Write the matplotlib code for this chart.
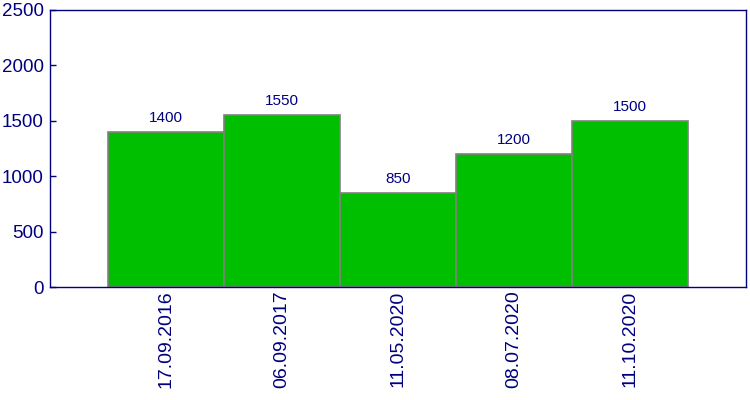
import matplotlib
matplotlib.use("Agg")
import matplotlib.pyplot as plt

dates = ["17.09.2016", "06.09.2017", "11.05.2020", "08.07.2020", "11.10.2020"]
values = [1400, 1550, 850, 1200, 1500]
yticks = [0, 500, 1000, 1500, 2000, 2500]

plt.rcParams['font.family'] = ['Liberation Sans', 'DejaVu Sans']
navy = '#000080'

fig = plt.figure(figsize=(7.5, 4), dpi=100)
ax = fig.add_axes([50/750, 1-287/400, 696/750, 277/400])
x = list(range(len(dates)))
ax.bar(x, values, width=1.0, color='#00BF00', edgecolor='#808080', linewidth=1.2)
for xi, v in zip(x, values):
    ax.annotate(str(v), (xi, v), xytext=(0, 5), textcoords='offset points',
                ha='center', va='bottom', fontsize=11, color=navy)
ax.set_xlim(-1, 5)
ax.set_ylim(0, 2500)
ax.set_yticks(yticks)
ax.set_xticks(x)
ax.set_xticklabels(dates, rotation=90)
ax.tick_params(axis='y', direction='in', length=4, width=1, color=navy, labelcolor=navy, labelsize=13.5, pad=4.5)
ax.tick_params(axis='x', length=0, labelcolor=navy, labelsize=14, pad=2.5)
for s in ax.spines.values():
    s.set_color(navy)
    s.set_linewidth(1)
fig.savefig('out.png', dpi=100)
